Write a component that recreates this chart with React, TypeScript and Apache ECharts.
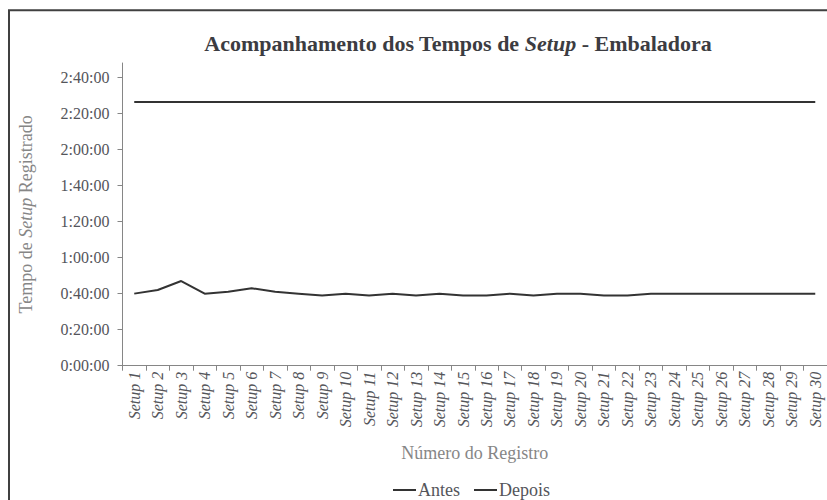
import React, { useEffect, useRef } from "react";
import * as echarts from "echarts";

const categories: string[] = Array.from({ length: 30 }, (_, i) => `Setup ${i + 1}`);
// minutes
const antes: number[] = [
  146.3, 146.3, 146.3, 146.3, 146.3, 146.3, 146.3, 146.3, 146.3, 146.3,
  146.3, 146.3, 146.3, 146.3, 146.3, 146.3, 146.3, 146.3, 146.3, 146.3,
  146.3, 146.3, 146.3, 146.3, 146.3, 146.3, 146.3, 146.3, 146.3, 146.3,
];
const depois: number[] = [
  40, 42, 47, 40, 41, 43, 41, 40, 39, 40,
  39, 40, 39, 40, 39, 39, 40, 39, 40, 40,
  39, 39, 40, 40, 40, 40, 40, 40, 40, 40,
];
const yTicks: number[] = [0, 20, 40, 60, 80, 100, 120, 140, 160];

const FONT = "Liberation Serif";

function fmt(min: number): string {
  const h = Math.floor(min / 60);
  const m = Math.round(min - h * 60);
  return `${h}:${String(m).padStart(2, "0")}:00`;
}

export default function App() {
  const ref = useRef<HTMLDivElement>(null);
  useEffect(() => {
    if (!ref.current) return;
    const chart = echarts.init(ref.current, null, { renderer: "svg" });
    chart.setOption({
      animation: false,
      title: {
        text: "Acompanhamento dos Tempos de {i|Setup} - Embaladora",
        left: 453,
        textAlign: "center",
        top: 27,
        textStyle: {
          fontFamily: FONT,
          fontSize: 22,
          fontWeight: "bold",
          rich: {
            i: { fontFamily: FONT, fontSize: 22, fontWeight: "bold", fontStyle: "italic" },
          },
        },
      },
      graphic: [
        {
          type: "rect",
          shape: { x: 9, y: 10.3, width: 900, height: 600 },
          style: { fill: "none", stroke: "#404040", lineWidth: 2 },
          silent: true,
        },
      ],
      legend: {
        left: 388,
        top: 476,
        icon: "rect",
        itemWidth: 23,
        itemHeight: 2,
        itemGap: 14,
        textStyle: { fontFamily: FONT, fontSize: 18, padding: [0, 0, 0, -3] },
        data: ["Antes", "Depois"],
      },
      grid: { left: 122.5, right: 0, top: 63, bottom: 134.3, containLabel: false },
      xAxis: {
        type: "category",
        data: categories,
        boundaryGap: true,
        name: "Número do Registro",
        nameLocation: "middle",
        nameGap: 78,
        nameTextStyle: { fontFamily: FONT, fontSize: 18 },
        axisLine: { lineStyle: { color: "#868686", width: 1 } },
        axisTick: { show: true, length: 5, alignWithLabel: false, lineStyle: { color: "#868686" } },
        axisLabel: {
          rotate: 90,
          interval: 0,
          margin: 6,
          fontFamily: FONT,
          fontSize: 16,
          fontStyle: "italic",
        },
        splitLine: { show: false },
      },
      yAxis: {
        type: "value",
        min: 0,
        max: 168,
        interval: 20,
        name: "Tempo de {i|Setup} Registrado",
        nameLocation: "middle",
        nameGap: 88,
        nameRotate: 90,
        nameTextStyle: {
          fontFamily: FONT,
          fontSize: 18,
          rich: { i: { fontFamily: FONT, fontSize: 18, fontStyle: "italic" } },
        },
        axisLine: { show: true, lineStyle: { color: "#868686", width: 1 } },
        axisTick: { show: true, length: 5, customValues: yTicks, lineStyle: { color: "#868686" } },
        axisLabel: {
          customValues: yTicks,
          margin: 13,
          fontFamily: FONT,
          fontSize: 16,
          formatter: (v: number) => fmt(v),
        },
        splitLine: { show: false },
      },
      series: [
        {
          name: "Antes",
          type: "line",
          data: antes,
          symbol: "none",
          itemStyle: { color: "#333" },
          lineStyle: { color: "#333", width: 2 },
        },
        {
          name: "Depois",
          type: "line",
          data: depois,
          symbol: "none",
          itemStyle: { color: "#333" },
          lineStyle: { color: "#333", width: 2 },
        },
      ],
    });
    return () => chart.dispose();
  }, []);
  return (
    <div
      ref={ref}
      style={{ position: "fixed", left: 0, top: 0, width: 827, height: 500, background: "#fff" }}
    />
  );
}
